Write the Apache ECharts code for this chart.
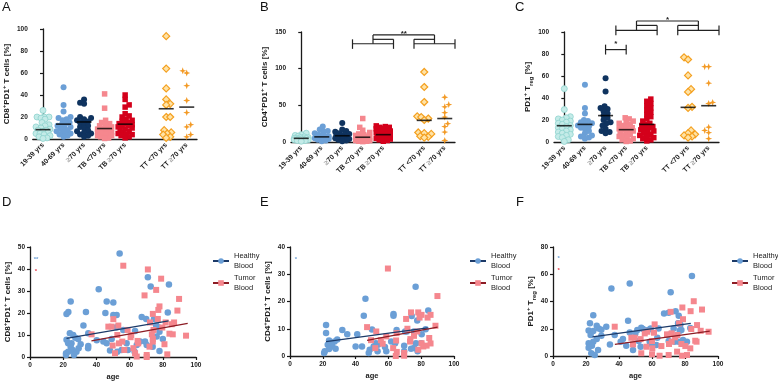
<!DOCTYPE html>
<html><head><meta charset="utf-8">
<script src="https://cdn.jsdelivr.net/npm/echarts/dist/echarts.min.js"></script>
<style>html,body{margin:0;padding:0;background:#fff}#c{width:778px;height:383px}</style>
</head><body><div id="c"></div>
<script>
// ---------- DATA ----------
const categories = ['19-39 yrs','40-69 yrs','≥70 yrs','TB <70 yrs','TB ≥70 yrs','','TT <70 yrs','TT ≥70 yrs'];

// Panel A: CD8+PD1+ T cells [%]
const aH1939 = [26,20,20,20,19,18,15,13,12,11,10,9,8,8,7,6,5,5,4,3,2,1,0.5];
const aH4069 = [47,31,25,20,19,18,17,15,14,13,12,11,10,9,8,7,6,5,4,3,2];
const aH70   = [36,33,32,20,19,18,17,16,15,14,12,11,10,8,7,6,5,4,3,2];
const aTBlt  = [41,28,17,15,14,13,12,11,10,10,9,9,8,8,7,7,6,6,5,5,4,3,3,2,1,0.5];
const aTBge  = [40,36,31,29,23,21,20,18,17,16,15,14,14,13,12,12,11,10,9,8,7,6,5,4,4,3,2,1];
const aTTlt  = [93.5,64,46,36,32,31,20,20,8,6,5,4,2,1];
const aTTge  = [62,60,48.5,35,24,13,11,4,2];
const aMed   = [8.5,13.5,15.5,9.5,13.5,null,27.5,29];

// Panel B: CD4+PD1+ T cells [%]
const bH1939 = [12,10,9,8,7,6,6,5,5,5,4,4,4,3,3,2,2,1];
const bH4069 = [21,17,15,14,12,10,9,8,7,7,6,5,5,4,3,2,1];
const bH70   = [26,17,15,14,12,11,10,9,9,8,7,6,5,4,3,2,1];
const bTBlt  = [32,20,16,13,11,10,9,8,8,7,7,6,6,5,5,4,4,3,3,2,2,1,1,0.5];
const bTBge  = [22,21,20,20,19,18,17,16,15,14,13,12,11,10,10,9,9,8,7,6,5,4,3,2,1];
const bTTlt  = [95.5,75,54.5,35,34,32,30,13,12,11,8,7,6];
const bTTge  = [61,51,48,40,34,25,21,13.5,2];
const bMed   = [5,7,8.5,6.5,10,null,29.5,32];

// Panel C: PD1+ Treg [%]
const cH1939 = [48.5,29.5,23,22,21,20,19,18,17,16,15,14,13,12,11,10,9,8,7,6,5,4,2,0.5];
const cH4069 = [52,31,26,20,19,18,17,16,15,14,13,12,10,8,6,5,4,3];
const cH70   = [58,46,32.5,31,30,28,26,24,22,20,18,17,15,12,10,9,8];
const cTBlt  = [22,21,19,18,17,16,15,14,13,12,11,11,10,9,8,7,6,5,4,3,2,1,0.5];
const cTBge  = [39,37,35,33,31,29,27,25,23,21,19,17,16,15,14,13,12,11,10,9,8,7,6,5,4,3,2,1];
const cTTlt  = [77,75,60.5,48,45.5,32,31,10.5,8,7,6,5,4];
const cTTge  = [68.5,68.5,53.5,36,35,13.5,10.5,8.5,3];
const cMed   = [14.8,16,24,11.2,16,null,31.5,33];

// significance brackets [x1,y1,x2,y2] in category-index units
const bBrackets = [[2.5,127,2.5,140],[2.5,134,4.5,134],[4.5,127,4.5,140],
  [5.5,127,5.5,140],[5.5,134,7.5,134],[7.5,127,7.5,140],
  [3.5,134,3.5,146],[6.5,134,6.5,146],[3.5,146,6.5,146],[3.5,140,4.5,140],[5.5,140,6.5,140]];
const bStars = [[5,146,'**']];
const cBrackets = [[2.5,97,2.5,106],[2.5,101.5,4.5,101.5],[4.5,97,4.5,106],
  [5.5,97,5.5,106],[5.5,101.5,7.5,101.5],[7.5,97,7.5,106],
  [3.5,101.5,3.5,110],[6.5,101.5,6.5,110],[3.5,110,6.5,110],[3.5,106,4.5,106],[5.5,106,6.5,106],
  [2,79.5,2,88.5],[2,84,3,84],[3,79.5,3,88.5]];
const cStars = [[5,110,'*'],[2.5,88.5,'*']];

// Panel D: CD8+PD1+ vs age
const dHealthy = [[54,47],[71,36.2],[72.7,32],[83.7,33],[41.4,30.8],[24.5,25.2],[46.2,25.2],[50.2,24.8],[23.1,20.4],[22,19.6],[33.7,20.4],[45.4,20],[50.2,19.1],[52.2,19.1],[83,20.2],[67.3,18.2],[70,17.3],[32.2,14.3],[52.2,13.5],[56.2,12.3],[63.3,11.8],[77.3,13.5],[78,11.5],[74.7,17.3],[76,14.3],[76.3,9.3],[80,8.2],[69.3,7],[24,10.8],[26,10],[27.3,8.8],[29,8.2],[35.1,10.8],[35.1,5],[35,4],[22,7.8],[23,6.2],[25,6.2],[24.5,4.7],[25.7,3.2],[28,2.4],[23,2.4],[21.7,1.7],[21.7,0.9],[26.5,0.9],[40.2,7.6],[44.2,7],[46.2,6.2],[49.2,8.2],[48.2,2.9],[52.6,2.4],[55.2,3.2],[59,3.2],[58.2,6.2],[64.3,5.5],[63,2.4],[66.3,7],[70.3,5.5],[73.9,4.7],[78,2.7],[30.5,5.8],[29.3,4]];
const dTumor = [[56.2,41.5],[71,39.8],[79,35.6],[76,30.5],[69,28],[89.8,26.4],[78,23],[77.3,21.4],[88.8,21.1],[74,19.6],[50.2,17.2],[77,17.3],[72.3,15.7],[81.7,15.7],[86.8,15.7],[85.4,14.9],[79.7,13.4],[53.2,14.3],[47.2,13.8],[49.2,13.8],[74.4,12.3],[58.8,12.3],[37.1,10.3],[52.6,10],[61,10],[60.6,9],[73.4,10.3],[74,8.2],[84,10.6],[86,10.3],[94,9.7],[74,7],[64.8,7.3],[65.2,6.2],[55.6,7],[53.6,6.2],[49.8,5.2],[62.3,4],[72,4.7],[56.8,3.2],[51.2,1.7],[63.3,1.7],[64.3,0.2],[70.3,0.9],[70.3,0],[82.7,1.2],[81,5.8]];
const dFitH = [[22,8.5],[83.5,16.4]];
const dFitT = [[37,7.3],[95,15.3]];
const dNotes = [[3.6,45,'**','h'],[3.6,39.5,'*','t']];

// Panel E: CD4+PD1+ vs age
const eHealthy = [[76.6,25.4],[46,21],[84.3,16.7],[63.1,15.4],[63.1,14.8],[45,14.8],[74.2,14.7],[77.6,13],[22,11.4],[22,8.4],[31.9,9.5],[50,9.7],[34.9,8],[41,8],[82.7,9.8],[70.2,9],[71.2,9],[75.6,9],[80.3,8],[65,9.5],[23.8,5.7],[28.8,6.1],[27.2,5.3],[25.4,4.7],[23,4.1],[25.8,3.5],[23.8,2.6],[21.2,1.7],[20.8,1.1],[27.8,2.7],[52.4,4.7],[51,3.5],[53.6,4.1],[48.6,2.3],[48,1.1],[53.4,1.7],[40,3.5],[43.9,3.5],[57.9,3.3],[58.7,1.7],[61.7,5.3],[64.1,4.7],[69.6,3.8],[69.6,1.7],[73.8,2.7],[75.6,2.9],[76.8,4.7],[77.8,1.7],[80,4.7]];
const eTumor = [[59.7,32.1],[89.9,22],[73.8,16],[78.2,16],[80.2,15.1],[85.7,15.1],[83.9,14.1],[70.8,13.6],[79,14.1],[47,10.6],[52.6,9],[71.6,10],[77.6,9],[88.7,11.1],[84.9,6.6],[73.4,6.2],[75.6,7.4],[49.4,5.8],[55.4,5.8],[58.7,7.2],[64.7,5.7],[62.9,2.9],[65.1,1.5],[64.5,0],[69.6,1.1],[69.6,0.1],[80.2,4.7],[81.3,3.5],[83.3,3.8],[85.7,4.6],[78.2,2.3],[52,2.9],[56.5,4.5],[73.2,5.3],[65,8.4]];
const eFitH = [[22,5.3],[84,10.3]];
const eFitT = [[47,5.7],[90,10.6]];
const eNotes = [[3.6,36,'*','h']];

// Panel F: PD1+ Treg vs age
const fHealthy = [[84.2,58.8],[46.5,53.2],[35.4,49.5],[71.3,46.8],[67.3,31.2],[70.1,31.7],[74.3,32.9],[45.5,25.9],[24.4,30],[22.4,24.1],[21.6,18.8],[26.5,22.2],[27.7,20.2],[29.3,19.3],[32.3,21.5],[24.4,18.3],[75.8,24.1],[76.2,29.5],[77.2,22.9],[73.1,20.2],[59.2,20.2],[53.5,20.7],[54.5,19.8],[57.6,19],[64,20.2],[76.8,18.5],[77.8,19],[83.2,20.5],[71.7,16.3],[69.7,15.4],[46.5,17.3],[49.9,16.6],[51.1,19],[37.4,15.4],[29.3,14.9],[22.8,15.4],[26.5,12.4],[24.4,10.5],[21.6,9.3],[23.6,7.6],[21.6,6.1],[27.3,4.4],[23.2,2],[25.3,0.7],[34.5,8.5],[41,10.5],[42.4,12.4],[44.4,7.6],[48.5,4.4],[51.9,11],[53.1,6.8],[58.6,10.5],[60,8.5],[62.6,8],[63.2,13.4],[70.1,11],[73.7,10.5],[76.2,10.5],[79.3,9.3],[81.2,10.5],[78.8,11.7]];
const fTumor = [[85.3,40.2],[90.3,34.1],[78.4,35.6],[71.3,32.4],[83.4,32.9],[78.8,27],[76.4,23.9],[37.4,21.5],[61.6,23.2],[87.3,22.7],[83.8,19.8],[89.5,18.5],[94.3,17.8],[55.6,16.6],[57.2,17.8],[61.2,17.1],[71.9,16.6],[75.4,15.4],[74,13.7],[49.5,13.4],[47.5,13.4],[53.1,12.4],[69.1,15.9],[86.2,11.2],[87,10.5],[60,11],[48.5,8.5],[60.2,5.6],[56.6,6.8],[65.7,7.3],[71.9,10.5],[70.3,8.8],[77.8,8.8],[80.2,7.3],[83.2,5.6],[53.5,2],[60,1.2],[64.6,0.2],[70.1,0.7],[75.2,3.2],[78.2,0.2],[81.2,0.7]];
const fFitH = [[24,14],[83.5,23.9]];
const fFitT = [[37.5,8.5],[95,18.3]];
const fNotes = [[3.4,72.7,'*','h'],[3.4,63.7,'*','t']];

// ---------- STYLE / LAYOUT ----------
const FONT = "'Liberation Sans', Arial, Helvetica, sans-serif";
const INK = '#1a1a1a';
const grids = [
  {left:30, top:29, width:167, height:110},
  {left:291, top:32, width:164, height:110},
  {left:554, top:32, width:165, height:110},
  {left:30, top:247, width:166, height:110},
  {left:290, top:247, width:164, height:109},
  {left:553, top:247, width:165, height:109}
];
const yMax = [100,150,100,50,40,80];
const yInt = [20,50,20,10,10,20];
const yNames = ['CD8{s|+}PD1{s|+} T cells [%]','CD4{s|+}PD1{s|+} T cells [%]','PD1{s|+} T{b|reg} [%]',
                'CD8{s|+}PD1{s|+} T cells [%]','CD4{s|+}PD1{s|+} T cells [%]','PD1{s|+} T{b|reg} [%]'];
const starPath = 'path://M5,0 L6.3,3.7 L10,5 L6.3,6.3 L5,10 L3.7,6.3 L0,5 L3.7,3.7 Z';
const colStyle = [
  {symbol:'circle', size:6, color:'#c4ebe8', border:'#8ed3ce', bw:0.8},
  {symbol:'circle', size:6, color:'#6b9fd6'},
  {symbol:'circle', size:6, color:'#0f335f'},
  {symbol:'rect', size:5.5, color:'#f5878e'},
  {symbol:'rect', size:5.5, color:'#d4001b'},
  null,
  {symbol:'diamond', size:7, color:'#ffe3a6', border:'#f4a020', bw:1.2},
  {symbol:starPath, size:7, color:'#f39a25'}
];
const HBLUE = '#6b9fd6', TPINK = '#f5878e';

const axisLine = {lineStyle:{color:INK, width:1.3}};
const axisTick = {length:3, lineStyle:{color:INK, width:1.2}};
const labelStyle = {fontSize:6.5, fontWeight:'bold', fontFamily:FONT, color:INK};
const nameStyle = {fontSize:8, fontWeight:'bold', fontFamily:FONT, color:INK, lineHeight:12,
  rich:{s:{fontSize:6, fontWeight:'bold', fontFamily:FONT, color:INK, verticalAlign:'top', lineHeight:12},
        b:{fontSize:6, fontWeight:'bold', fontFamily:FONT, color:INK, verticalAlign:'bottom', lineHeight:12}}};

function swarm(vals, pxPerUnit, minDist, maxW) {
  const order = vals.map((v,i)=>i).sort((a,b)=>vals[a]-vals[b]);
  const placed = [], offs = new Array(vals.length).fill(0);
  order.forEach((i, n) => {
    const y = vals[i]*pxPerUnit, side = n % 2 ? 1 : -1;
    let chosen = null, bestDx = 0, bestD = -1;
    for (let k = 0; k <= 2*maxW; k++) {
      const dx = k === 0 ? 0 : side*(k % 2 ? 1 : -1)*Math.ceil(k/2);
      let md = Infinity;
      for (const p of placed) { const d = Math.hypot(p[0]-dx, p[1]-y); if (d < md) md = d; }
      if (md >= minDist) { chosen = dx; break; }
      if (md > bestD) { bestD = md; bestDx = dx; }
    }
    if (chosen === null) chosen = bestDx;
    offs[i] = chosen; placed.push([chosen, y]);
  });
  return offs;
}

const xAxis = [], yAxis = [], series = [];
for (let g = 0; g < 3; g++) {
  xAxis.push({type:'category', gridIndex:g, data:categories, boundaryGap:true,
    axisLine, axisTick:Object.assign({alignWithLabel:true, interval:0}, axisTick),
    axisLabel:Object.assign({}, labelStyle, {fontSize:7, interval:0, rotate:45, margin:5,
      formatter: v => v.replace('≥','{g|≥}'),
      rich:{g:{color:'#a8a8a8', fontSize:7, fontWeight:'bold', fontFamily:FONT}}}),
    splitLine:{show:false}});
}
for (let g = 3; g < 6; g++) {
  xAxis.push({type:'value', gridIndex:g, min:0, max:100, interval:20, name:'age',
    nameLocation:'middle', nameGap:16, nameTextStyle:{fontSize:7.5, fontWeight:'bold', fontFamily:FONT, color:INK},
    axisLine, axisTick, axisLabel:Object.assign({margin:5}, labelStyle), splitLine:{show:false}});
}
for (let g = 0; g < 3; g++) {
  xAxis.push({type:'value', gridIndex:g, min:-0.5, max:7.5, show:false});
}
for (let g = 0; g < 6; g++) {
  yAxis.push({type:'value', gridIndex:g, min:0, max:yMax[g], interval:yInt[g],
    name:yNames[g], nameLocation:'middle', nameGap:15, nameTextStyle:nameStyle,
    axisLine:Object.assign({show:true}, axisLine), axisTick:Object.assign({show:true}, axisTick),
    axisLabel:Object.assign({margin:5}, labelStyle), splitLine:{show:false}});
}

const panels = [
  [aH1939,aH4069,aH70,aTBlt,aTBge,null,aTTlt,aTTge],
  [bH1939,bH4069,bH70,bTBlt,bTBge,null,bTTlt,bTTge],
  [cH1939,cH4069,cH70,cTBlt,cTBge,null,cTTlt,cTTge]
];
const medians = [aMed, bMed, cMed];
panels.forEach((cols, g) => {
  const ppu = grids[g].height / yMax[g];
  cols.forEach((vals, c) => {
    if (!vals) return;
    const st = colStyle[c];
    const offs = swarm(vals, ppu, 4, 7);
    series.push({type:'scatter', xAxisIndex:g, yAxisIndex:g, symbol:st.symbol, symbolSize:st.size,
      itemStyle:{color:st.color, borderColor:st.border || st.color, borderWidth:st.bw || 0, opacity:1},
      data: vals.map((v,j) => ({value:[c, v], symbolOffset:[offs[j], 0]})), z:2, silent:true});
  });
  series.push({type:'scatter', xAxisIndex:g, yAxisIndex:g, symbol:'rect', symbolSize:[15,1.6],
    itemStyle:{color:'#000'}, z:5, silent:true,
    data: medians[g].map((m,c) => m == null ? null : [c, m]).filter(d => d)});
});

function segRender(params, api) {
  const p1 = api.coord([api.value(0), api.value(1)]);
  const p2 = api.coord([api.value(2), api.value(3)]);
  return {type:'line', shape:{x1:p1[0], y1:p1[1], x2:p2[0], y2:p2[1]}, style:{stroke:'#222', lineWidth:1.2}};
}
function makeTextRender(arr, size, colorOf, dy, vAlign) {
  return function (params, api) {
    const d = arr[params.dataIndex];
    const p = api.coord([d[0], d[1]]);
    return {type:'text', x:p[0], y:p[1] + dy, style:{text:String(d[2]), fill:colorOf(d), fontSize:size,
      fontWeight:'bold', fontFamily:FONT, align:'center', verticalAlign:vAlign}};
  };
}
[[1,bBrackets,bStars],[2,cBrackets,cStars]].forEach(([g, segs, stars]) => {
  series.push({type:'custom', xAxisIndex:6+g, yAxisIndex:g, clip:false, silent:true, renderItem:segRender,
    data:segs, z:6});
  series.push({type:'custom', xAxisIndex:6+g, yAxisIndex:g, clip:false, silent:true,
    renderItem:makeTextRender(stars, 8, () => '#222', 3, 'bottom'),
    data:stars.map(s => [s[0], s[1]]), z:6});
});

const scat = [[dHealthy,dTumor,dFitH,dFitT,dNotes],[eHealthy,eTumor,eFitH,eFitT,eNotes],[fHealthy,fTumor,fFitH,fFitT,fNotes]];
scat.forEach(([h, t, fh, ft, notes], k) => {
  const g = 3 + k;
  series.push({type:'scatter', xAxisIndex:g, yAxisIndex:g, symbol:'circle', symbolSize:6.5,
    itemStyle:{color:HBLUE, opacity:1}, data:h, z:2, silent:true});
  series.push({type:'scatter', xAxisIndex:g, yAxisIndex:g, symbol:'rect', symbolSize:6,
    itemStyle:{color:TPINK, opacity:1}, data:t, z:2, silent:true});
  series.push({type:'line', name:'Healthy Blood', xAxisIndex:g, yAxisIndex:g, data:fh, symbol:'circle',
    showSymbol:false, lineStyle:{color:'#1c3a68', width:1.3}, itemStyle:{color:HBLUE}, z:4, silent:true});
  series.push({type:'line', name:'Tumor Blood', xAxisIndex:g, yAxisIndex:g, data:ft, symbol:'rect',
    showSymbol:false, lineStyle:{color:'#8c1c24', width:1.3}, itemStyle:{color:TPINK}, z:4, silent:true});
  series.push({type:'custom', xAxisIndex:g, yAxisIndex:g, clip:false, silent:true,
    renderItem:makeTextRender(notes, 6, d => d[3] === 'h' ? HBLUE : '#e83a48', 1, 'middle'),
    data:notes.map(n => [n[0], n[1]]), z:6});
});

const legendLeft = [207, 464, 726];
const legend = legendLeft.map(l => ({
  data:['Healthy Blood','Tumor Blood'], left:l, top:246, orient:'vertical', itemWidth:16, itemHeight:7,
  itemGap:2, selectedMode:false, formatter: n => n.replace(' ', '\n'),
  textStyle:{fontSize:7.5, lineHeight:10, fontFamily:FONT, color:'#222'}
}));

const letters = [['A',2,1],['B',260,1],['C',515,1],['D',2,196],['E',260,196],['F',516,196]];
const title = letters.map(([t,l,tp]) => ({text:t, left:l, top:tp, padding:0,
  textStyle:{fontSize:13, fontWeight:'normal', fontFamily:FONT, color:'#111'}}));

const chart = echarts.init(document.getElementById('c'), null, {renderer:'canvas'});
chart.setOption({animation:false, backgroundColor:'#fff', title, legend, grid:grids, xAxis, yAxis, series});
</script></body></html>
